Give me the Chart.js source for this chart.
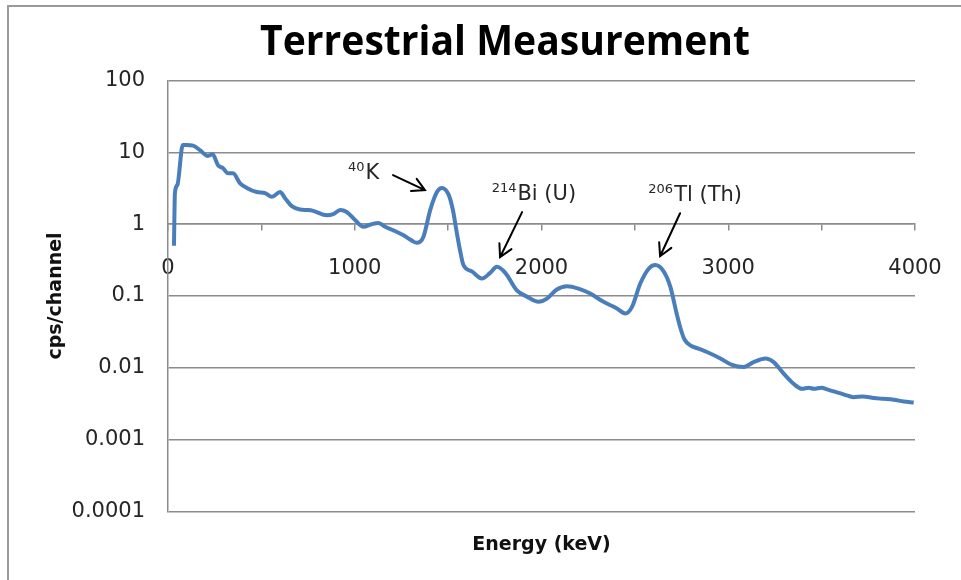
<!DOCTYPE html>
<html><head><meta charset="utf-8">
<script src="https://cdn.jsdelivr.net/npm/chart.js@4.4.1/dist/chart.umd.min.js"></script>
<style>html,body{margin:0;padding:0;background:#fff}#wrap{width:961px;height:580px;position:relative}</style>
</head><body><div id="wrap"><canvas id="c" width="961" height="580"></canvas></div>
<script>
const chartTitle = 'Terrestrial Measurement';
const xTitle = 'Energy (keV)';
const yTitle = 'cps/channel';

const energy = [32, 37, 50, 79, 100, 134, 171, 214, 239, 268, 295, 322, 348, 386, 422, 475, 520, 556, 600, 627,
  663, 707, 750, 777, 850, 885, 922, 957, 1002, 1046, 1091, 1127, 1163, 1207, 1261, 1306, 1332, 1368, 1404, 1440,
  1466, 1502, 1525, 1545, 1564, 1582, 1627, 1681, 1725, 1761, 1806, 1868, 1922, 1984, 2029, 2082, 2136, 2198, 2261, 2332,
  2404, 2449, 2484, 2529, 2574, 2609, 2654, 2690, 2725, 2745, 2765, 2797, 2840, 2886, 2958, 3020, 3083, 3136, 3199, 3243,
  3297, 3350, 3395, 3430, 3458, 3500, 3529, 3565, 3601, 3640, 3672, 3720, 3779, 3830, 3886, 3940, 3993];
const cps = [0.50, 2.7, 3.5, 12.6, 12.6, 12.4, 10.7, 8.9, 9.4, 6.6, 6.0, 5.1, 5.1, 3.7, 3.2, 2.8, 2.7, 2.4, 2.8, 2.3,
  1.78, 1.6, 1.57, 1.53, 1.33, 1.38, 1.57, 1.48, 1.14, 0.92, 1.0, 1.04, 0.92, 0.82, 0.70, 0.59, 0.55, 0.67, 1.57, 2.8,
  3.2, 2.6, 1.6, 0.8, 0.43, 0.27, 0.22, 0.175, 0.21, 0.255, 0.21, 0.12, 0.098, 0.083, 0.092, 0.123, 0.137, 0.127, 0.108, 0.083,
  0.067, 0.057, 0.07, 0.149, 0.24, 0.27, 0.22, 0.134, 0.055, 0.035, 0.025, 0.0206, 0.0185, 0.0166, 0.0135, 0.011, 0.0103, 0.012, 0.0135, 0.012,
  0.0083, 0.006, 0.0051, 0.0053, 0.0051, 0.0053, 0.005, 0.0047, 0.0044, 0.0041, 0.0039, 0.0040, 0.0038, 0.0037, 0.0036, 0.0034, 0.0033];

const yTickValues = [0.0001, 0.001, 0.01, 0.1, 1, 10, 100];
const yTickLabels = ['0.0001', '0.001', '0.01', '0.1', '1', '10', '100'];
const xTickValues = [0, 500, 1000, 1500, 2000, 2500, 3000, 3500, 4000];
const xTickLabels = ['0', '', '1000', '', '2000', '', '3000', '', '4000'];

const annoSup = ['40', '214', '206'];
const annoText = ['K', 'Bi (U)', 'Tl (Th)'];
const annoTextE = [964, 1733, 2572];
const annoTextV = [4.24, 2.16, 2.12];
const arrowFromE = [1205, 1896, 2742];
const arrowFromV = [4.82, 1.47, 1.42];
const arrowToE = [1376, 1778, 2635];
const arrowToV = [2.98, 0.347, 0.358];

const GRID = '#8c8c8c';
const TXT = '#262626';

const framePlugin = {
  id: 'frame',
  beforeDraw(chart) {
    const ctx = chart.ctx;
    ctx.save();
    ctx.fillStyle = '#fff';
    ctx.fillRect(0, 0, chart.width, chart.height);
    ctx.strokeStyle = '#9a9a9a';
    ctx.lineWidth = 2;
    ctx.beginPath();
    ctx.moveTo(8, chart.height + 5);
    ctx.lineTo(8, 6);
    ctx.lineTo(chart.width + 5, 6);
    ctx.stroke();
    ctx.restore();
  },
  afterDraw(chart) {
    const ctx = chart.ctx;
    ctx.save();
    ctx.fillStyle = '#000';
    ctx.font = 'bold 42px "Open Sans"';
    ctx.textAlign = 'center';
    ctx.textBaseline = 'alphabetic';
    ctx.fillText(chartTitle, 505, 55, 490);
    ctx.restore();
  }
};

const annoPlugin = {
  id: 'anno',
  afterDatasetsDraw(chart) {
    const ctx = chart.ctx;
    const xs = chart.scales.x, ys = chart.scales.y;
    ctx.save();
    for (let i = 0; i < annoText.length; i++) {
      const tx = xs.getPixelForValue(annoTextE[i]);
      const ty = ys.getPixelForValue(annoTextV[i]);
      ctx.fillStyle = TXT;
      ctx.textAlign = 'left';
      ctx.textBaseline = 'alphabetic';
      ctx.font = '13px "DejaVu Sans"';
      ctx.fillText(annoSup[i], tx, ty - 8);
      const w = ctx.measureText(annoSup[i]).width;
      ctx.font = '21px "DejaVu Sans"';
      ctx.fillText(annoText[i], tx + w + 1, ty);

      const x1 = xs.getPixelForValue(arrowFromE[i]), y1 = ys.getPixelForValue(arrowFromV[i]);
      const x2 = xs.getPixelForValue(arrowToE[i]), y2 = ys.getPixelForValue(arrowToV[i]);
      const a = Math.atan2(y2 - y1, x2 - x1);
      const L = 14, sp = 0.5;
      ctx.strokeStyle = '#000';
      ctx.lineWidth = 2;
      ctx.lineCap = 'round';
      ctx.beginPath();
      ctx.moveTo(x1, y1); ctx.lineTo(x2, y2);
      ctx.moveTo(x2 - L * Math.cos(a - sp), y2 - L * Math.sin(a - sp));
      ctx.lineTo(x2, y2);
      ctx.lineTo(x2 - L * Math.cos(a + sp), y2 - L * Math.sin(a + sp));
      ctx.stroke();
    }
    ctx.restore();
  }
};

new Chart(document.getElementById('c'), {
  type: 'line',
  data: {
    datasets: [{
      data: energy.map((e, i) => ({ x: e, y: cps[i] })),
      borderColor: '#4a7ebb',
      borderWidth: 4,
      pointRadius: 0,
      cubicInterpolationMode: 'monotone',
      fill: false,
      xAxisID: 'x',
      yAxisID: 'y'
    }]
  },
  options: {
    responsive: false,
    animation: false,
    devicePixelRatio: 1,
    layout: { padding: { top: 80.5, right: 46, bottom: 0, left: 0 } },
    plugins: { legend: { display: false }, tooltip: { enabled: false }, title: { display: false } },
    scales: {
      x: {
        type: 'linear', position: { y: 1 }, min: 0, max: 4000,
        afterBuildTicks: s => { s.ticks = xTickValues.map(v => ({ value: v })); },
        afterFit: s => { s.height = 0; s.paddingLeft = 0; s.paddingRight = 0; },
        ticks: { autoSkip: false, maxRotation: 0, padding: 26, color: TXT,
          font: { family: 'DejaVu Sans', size: 21 },
          callback: (v, i) => xTickLabels[i] },
        grid: { display: true, drawOnChartArea: false, drawTicks: true, tickLength: 6, color: GRID, lineWidth: 1.5 },
        border: { display: true, color: GRID, width: 1.5 }
      },
      x2: {
        type: 'linear', position: 'bottom', min: 0, max: 4000,
        afterFit: s => { s.height = 68.5; s.paddingLeft = 0; s.paddingRight = 0; },
        ticks: { display: false },
        grid: { display: false },
        border: { display: false },
        title: { display: true, text: xTitle, color: '#111',
          font: { family: 'DejaVu Sans', size: 19, weight: 'bold' },
          padding: { top: 0, bottom: 23.6 } }
      },
      y: {
        type: 'logarithmic', position: 'left', min: 0.0001, max: 100,
        afterBuildTicks: s => { s.ticks = yTickValues.map(v => ({ value: v })); },
        afterFit: s => { s.width = 168; },
        ticks: { padding: 23, color: TXT, font: { family: 'DejaVu Sans', size: 21 },
          callback: (v, i) => yTickLabels[i] },
        grid: { color: GRID, lineWidth: 1.5, drawTicks: false },
        border: { display: true, color: GRID, width: 1.5 },
        title: { display: true, text: yTitle, color: '#111',
          font: { family: 'DejaVu Sans', size: 19, weight: 'bold' },
          padding: { top: 45, bottom: 0 } }
      }
    }
  },
  plugins: [framePlugin, annoPlugin]
});
</script>
</body></html>
